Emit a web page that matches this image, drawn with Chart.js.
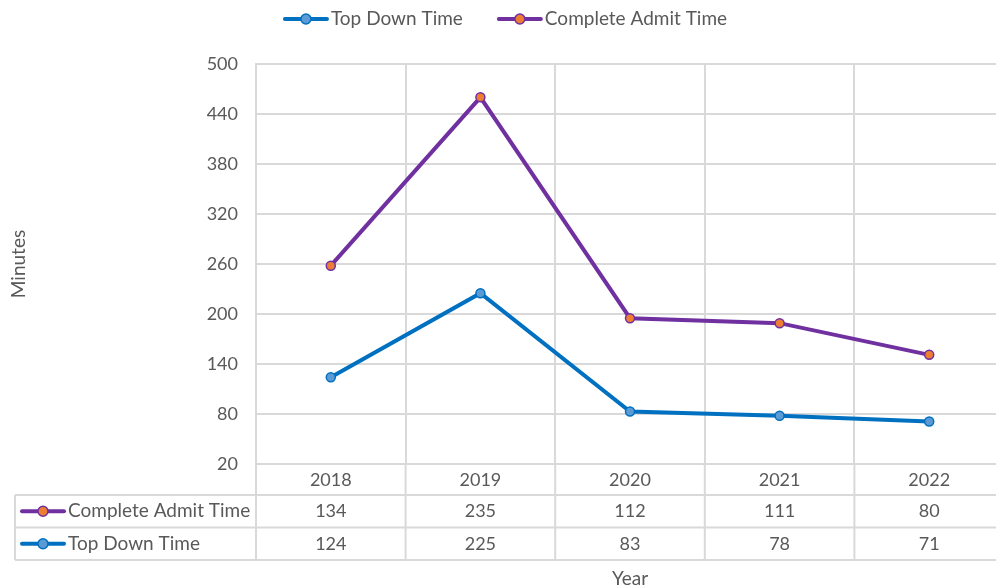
<!DOCTYPE html>
<html>
<head>
<meta charset="utf-8">
<script src="https://cdn.jsdelivr.net/npm/chart.js@4"></script>
<style>
html, body { margin: 0; padding: 0; background: #fff; overflow: hidden; }
#wrap { width: 996px; height: 588px; overflow: hidden; }
</style>
</head>
<body>
<div id="wrap"><canvas id="chart" width="1010" height="588"></canvas></div>
<script>
const years = ['2018', '2019', '2020', '2021', '2022'];
const topDownTime = [124, 225, 83, 78, 71];
const completeAdmitTime = [134, 235, 112, 111, 80];
const yTicks = [20, 80, 140, 200, 260, 320, 380, 440, 500];

const FONT = 'Lato, "Open Sans", sans-serif';
const TEXT = '#595959';
const GRID = '#d9d9d9';
const BLUE = '#0070C0', BLUE_PT = '#5B9BD5';
const PURPLE = '#7030A0', ORANGE = '#ED7D31';

const series = [
    { label: 'Top Down Time', data: topDownTime, line: BLUE, point: BLUE_PT },
    { label: 'Complete Admit Time', data: completeAdmitTime, line: PURPLE, point: ORANGE }
];

// little line + dot marker, used by the legend and the data table
function drawMarker(ctx, x, y, line, point) {
    ctx.save();
    ctx.strokeStyle = line;
    ctx.lineWidth = 4;
    ctx.lineCap = 'round';
    ctx.beginPath();
    ctx.moveTo(x + 2, y);
    ctx.lineTo(x + 44, y);
    ctx.stroke();
    ctx.fillStyle = point;
    ctx.lineWidth = 1.5;
    ctx.beginPath();
    ctx.arc(x + 23, y, 5, 0, Math.PI * 2);
    ctx.fill();
    ctx.stroke();
    ctx.restore();
}

const legendPlugin = {
    id: 'excelLegend',
    afterDraw(chart) {
        const ctx = chart.ctx;
        ctx.save();
        ctx.font = '19px ' + FONT;
        ctx.fillStyle = TEXT;
        ctx.textBaseline = 'middle';
        const widths = series.map(s => 48 + ctx.measureText(s.label).width);
        const gap = 34;
        const total = widths.reduce((a, b) => a + b, 0) + gap * (series.length - 1);
        let x = chart.width / 2 - total / 2;
        const y = 19;
        series.forEach((s, i) => {
            drawMarker(ctx, x, y, s.line, s.point);
            ctx.fillText(s.label, x + 48, y);
            x += widths[i] + gap;
        });
        ctx.restore();
    }
};

const tablePlugin = {
    id: 'dataTable',
    afterDraw(chart) {
        const ctx = chart.ctx;
        const area = chart.chartArea;
        const xs = chart.scales.x;
        const n = years.length;
        const colW = area.width / n;
        const tableLeft = 15;
        const rowTop = area.bottom + 31;
        const rowH = 32.5;
        const rows = [series[1], series[0]];
        const tableBottom = rowTop + rowH * rows.length;

        ctx.save();
        ctx.strokeStyle = GRID;
        ctx.lineWidth = 2;
        ctx.beginPath();
        for (let i = 0; i <= n; i++) {
            const x = area.left + i * colW;
            ctx.moveTo(x, area.bottom);
            ctx.lineTo(x, tableBottom);
        }
        ctx.moveTo(tableLeft, rowTop);
        ctx.lineTo(tableLeft, tableBottom);
        for (let r = 0; r <= rows.length; r++) {
            const y = rowTop + r * rowH;
            ctx.moveTo(tableLeft, y);
            ctx.lineTo(area.right, y);
        }
        ctx.stroke();

        ctx.font = '19px ' + FONT;
        ctx.fillStyle = TEXT;
        ctx.textBaseline = 'middle';
        rows.forEach((s, r) => {
            const cy = rowTop + r * rowH + rowH / 2;
            drawMarker(ctx, 20, cy, s.line, s.point);
            ctx.textAlign = 'left';
            ctx.fillText(s.label, 68, cy);
            ctx.textAlign = 'center';
            ctx.font = '18px ' + FONT;
            s.data.forEach((v, i) => {
                ctx.fillText(String(v), xs.getPixelForValue(i), cy);
            });
            ctx.font = '19px ' + FONT;
        });
        ctx.restore();
    }
};

const ctx = document.getElementById('chart').getContext('2d');
const chart = new Chart(ctx, {
    type: 'line',
    data: {
        labels: years,
        datasets: series.map(s => ({
            label: s.label,
            data: s.data,
            borderColor: s.line,
            backgroundColor: s.point,
            borderWidth: 4,
            pointRadius: 4.5,
            pointBorderWidth: 1.5,
            pointBackgroundColor: s.point,
            pointBorderColor: s.line,
            fill: false,
            tension: 0
        }))
    },
    options: {
        responsive: false,
        animation: false,
        layout: { padding: { top: 64, right: 4, left: 0, bottom: 0 } },
        plugins: {
            legend: { display: false },
            tooltip: { enabled: false }
        },
        scales: {
            x: {
                offset: true,
                grid: { offset: true, color: GRID, lineWidth: 2, drawTicks: false },
                border: { display: false },
                ticks: { color: TEXT, font: { family: FONT, size: 18 }, padding: 5 },
                title: {
                    display: true,
                    text: 'Year',
                    color: TEXT,
                    font: { family: FONT, size: 19 },
                    padding: { top: 0, bottom: -2 }
                },
                afterFit(scale) { scale.height = 124; }
            },
            y: {
                stacked: true,
                min: yTicks[0],
                max: yTicks[yTicks.length - 1],
                grid: { color: GRID, lineWidth: 2, drawTicks: false },
                border: { color: GRID, width: 2 },
                ticks: {
                    stepSize: yTicks[1] - yTicks[0],
                    color: TEXT,
                    font: { family: FONT, size: 18 },
                    padding: 18
                },
                title: {
                    display: true,
                    text: 'Minutes',
                    color: TEXT,
                    font: { family: FONT, size: 19 },
                    padding: { top: 7, bottom: 0 }
                },
                afterFit(scale) { scale.width = 256; }
            }
        }
    },
    plugins: [legendPlugin, tablePlugin]
});
</script>
</body>
</html>
